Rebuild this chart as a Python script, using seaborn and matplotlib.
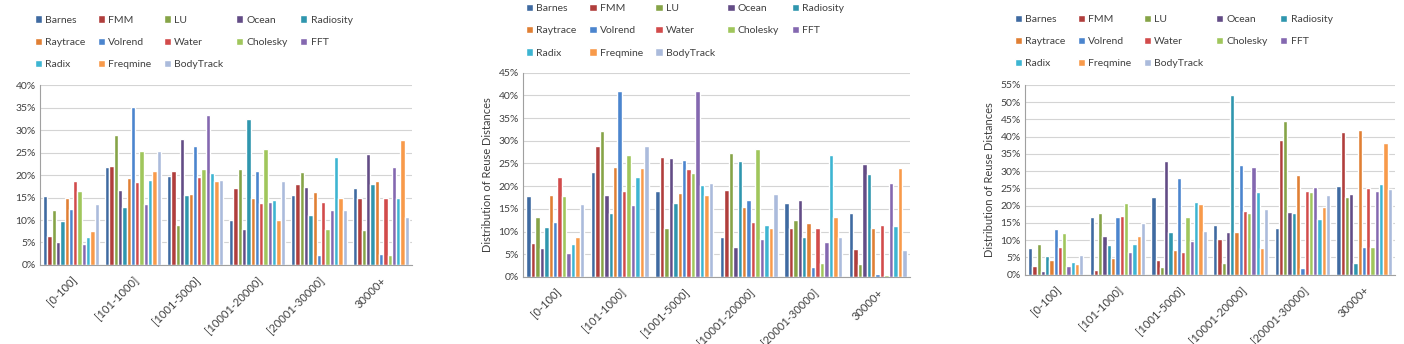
import numpy as np
import pandas as pd
import matplotlib
matplotlib.use("Agg")
import matplotlib.pyplot as plt
from matplotlib.patches import Patch
import seaborn as sns

# benchmarks and reuse-distance buckets
benchmarks = ["Barnes", "FMM", "LU", "Ocean", "Radiosity", "Raytrace", "Volrend",
              "Water", "Cholesky", "FFT", "Radix", "Freqmine", "BodyTrack"]
ranges = ["[0-100]", "[101-1000]", "[1001-5000]", "[10001-20000]", "[20001-30000]", "30000+"]

colors = ["#3F6AA1", "#B03E3C", "#86A447", "#634C86", "#2F96AE", "#E07F34", "#4B85CE",
          "#D24B4B", "#A0C65C", "#8468B0", "#3DB5D2", "#F89A4A", "#ABBBDC"]

# values in percent, one row per benchmark, one column per range
left_vals = [
    [15.4, 21.7, 19.8, 10.1, 15.5, 17.2],  # Barnes
    [6.4, 22.1, 21.0, 17.1, 17.9, 15.0],   # FMM
    [12.2, 28.8, 8.8, 21.4, 20.6, 7.8],    # LU
    [5.2, 16.6, 28.0, 8.1, 17.3, 24.6],    # Ocean
    [9.8, 12.9, 15.5, 32.4, 11.2, 18.0],   # Radiosity
    [14.8, 19.4, 15.8, 14.8, 16.3, 18.7],  # Raytrace
    [12.5, 35.1, 26.4, 20.8, 2.3, 2.5],    # Volrend
    [18.6, 18.5, 19.6, 13.7, 14.1, 15.0],  # Water
    [16.5, 25.4, 21.4, 25.7, 8.1, 2.2],    # Cholesky
    [4.6, 13.5, 33.4, 14.0, 12.2, 21.7],   # FFT
    [6.3, 19.0, 20.5, 14.5, 24.1, 15.0],   # Radix
    [7.5, 20.8, 18.7, 10.0, 14.9, 27.8],   # Freqmine
    [13.6, 25.4, 18.8, 18.7, 12.2, 10.6],  # BodyTrack
]

mid_vals = [
    [17.8, 23.2, 18.9, 8.7, 16.2, 14.2],
    [7.5, 28.8, 26.5, 19.2, 10.7, 6.1],
    [13.2, 32.2, 10.7, 27.4, 12.6, 2.8],
    [6.4, 18.1, 26.2, 6.7, 16.9, 24.8],
    [11.0, 14.2, 16.4, 25.6, 8.8, 22.7],
    [18.1, 24.2, 18.5, 15.4, 11.9, 10.8],
    [12.1, 40.9, 25.7, 17.0, 2.3, 0.7],
    [22.0, 18.9, 23.8, 12.0, 10.7, 11.5],
    [17.8, 26.8, 22.9, 28.1, 3.0, 0.4],
    [5.3, 15.8, 40.9, 8.4, 7.7, 20.6],
    [7.2, 22.1, 20.2, 11.4, 26.8, 11.2],
    [8.8, 24.0, 18.1, 10.7, 13.2, 24.1],
    [16.0, 28.9, 20.8, 18.3, 8.7, 6.0],
]

right_vals = [
    [7.6, 16.6, 22.5, 14.4, 13.4, 25.7],
    [2.6, 1.5, 4.3, 10.3, 39.0, 41.5],
    [8.9, 18.0, 2.3, 3.3, 44.5, 22.5],
    [1.2, 11.3, 33.0, 12.3, 18.3, 23.5],
    [5.4, 8.6, 12.3, 52.1, 17.9, 3.3],
    [4.2, 4.7, 7.2, 12.5, 29.0, 41.8],
    [13.3, 16.8, 28.1, 31.7, 2.0, 8.0],
    [8.0, 17.1, 6.7, 18.6, 24.2, 25.0],
    [12.2, 20.9, 16.6, 17.9, 24.0, 8.0],
    [2.4, 6.7, 9.8, 31.1, 25.5, 24.3],
    [3.6, 8.8, 21.2, 24.0, 16.0, 26.2],
    [3.1, 11.2, 20.4, 7.6, 19.5, 38.2],
    [5.8, 14.9, 12.8, 19.1, 23.0, 24.8],
]


def to_frame(vals):
    rows = []
    for b, row in zip(benchmarks, vals):
        for r, v in zip(ranges, row):
            rows.append({"range": r, "bench": b, "value": v})
    return pd.DataFrame(rows)


sns.set_style("white")
plt.rcParams["font.family"] = ["Lato", "DejaVu Sans"]

fig = plt.figure(figsize=(14.04, 3.44), dpi=100)

panels = [
    # data, ymax, axes rect, ylabel, legend anchor
    (left_vals, 40, [0.0285, 0.2297, 0.265, 0.523], False, (0.018, 0.983)),
    (mid_vals, 45, [0.3725, 0.1948, 0.2756, 0.594], True, (0.368, 1.016)),
    (right_vals, 55, [0.730, 0.2015, 0.2635, 0.5515], True, (0.716, 0.985)),
]

# legend reads row by row in the reference, matplotlib fills column by column
legend_order = [0, 5, 10, 1, 6, 11, 2, 7, 12, 3, 8, 4, 9]

grey_txt = "#404040"
for vals, ymax, rect, has_ylabel, anchor in panels:
    ax = fig.add_axes(rect)
    df = to_frame(vals)
    sns.barplot(data=df, x="range", y="value", hue="bench", hue_order=benchmarks,
                palette=colors, saturation=1, width=0.9, ax=ax, legend=False)
    ax.set_ylim(0, ymax)
    ax.set_xlim(-0.5, len(ranges) - 0.5)
    ax.set_yticks(np.arange(0, ymax + 1, 5))
    ax.set_yticklabels([f"{t}%" for t in range(0, ymax + 1, 5)], fontsize=7.5, color=grey_txt)
    ax.yaxis.grid(True, color="#D4D4D4", lw=0.8)
    ax.set_axisbelow(True)
    ax.set_xticks(range(len(ranges)))
    ax.set_xticklabels(ranges, rotation=45, ha="right", rotation_mode="anchor",
                       fontsize=8, color=grey_txt)
    ax.tick_params(axis="x", length=0, pad=7)
    ax.tick_params(axis="y", length=0, pad=3)
    ax.set_xticks(np.arange(-0.5, len(ranges), 1), minor=True)
    ax.tick_params(axis="x", which="minor", length=4, color="#A0A0A0")
    for s in ["top", "right"]:
        ax.spines[s].set_visible(False)
    for s in ["left", "bottom"]:
        ax.spines[s].set_color("#A0A0A0")
        ax.spines[s].set_linewidth(0.8)
    ax.set_xlabel("")
    if has_ylabel:
        ax.set_ylabel("Distribution of Reuse Distances", fontsize=8, color=grey_txt, labelpad=4)
    else:
        ax.set_ylabel("")
    handles = [Patch(facecolor=colors[i], label=benchmarks[i]) for i in legend_order]
    fig.legend(handles=handles, loc="upper left", bbox_to_anchor=anchor, ncol=5,
               frameon=False, fontsize=7.5, handlelength=0.7, handleheight=0.7,
               handletextpad=0.3, columnspacing=1.2, labelspacing=1.25,
               labelcolor=grey_txt)

fig.savefig("out.png", dpi=100)
